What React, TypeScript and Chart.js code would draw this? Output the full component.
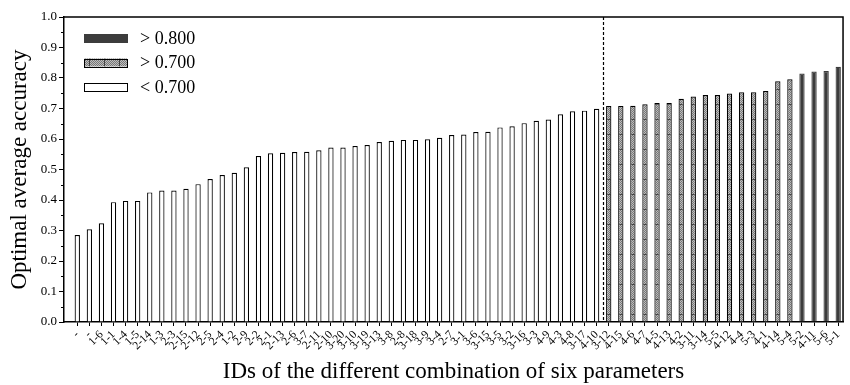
import React, { useEffect, useRef } from "react";
import { Chart, registerables } from "chart.js";

Chart.register(...registerables);

const ids = [
  "-", "-", "1-6", "1-1", "1-4", "1-5", "2-14", "1-3", "2-3", "2-15",
  "2-12", "2-5", "2-4", "1-2", "2-9", "2-2", "2-1", "2-13", "2-6", "3-7",
  "2-11", "2-10", "3-20", "3-10", "3-19", "3-13", "3-8", "2-8", "3-18", "3-9",
  "3-4", "2-7", "3-1", "3-6", "3-15", "3-5", "3-2", "3-16", "3-3", "4-9",
  "4-3", "4-8", "3-17", "4-10", "3-12", "4-15", "4-6", "4-7", "4-5", "4-13",
  "4-2", "3-11", "3-14", "5-5", "4-12", "4-4", "5-3", "4-1", "4-14", "5-4",
  "5-2", "4-11", "5-6", "5-1",
];

const accuracy = [
  0.285, 0.304, 0.324, 0.393, 0.397, 0.397, 0.425, 0.431, 0.431, 0.437,
  0.452, 0.469, 0.482, 0.489, 0.507, 0.544, 0.553, 0.555, 0.557, 0.558,
  0.563, 0.572, 0.572, 0.577, 0.580, 0.590, 0.594, 0.597, 0.597, 0.599,
  0.604, 0.613, 0.615, 0.623, 0.624, 0.638, 0.642, 0.652, 0.660, 0.664,
  0.681, 0.691, 0.693, 0.699, 0.708, 0.708, 0.709, 0.714, 0.718, 0.718,
  0.732, 0.739, 0.744, 0.744, 0.749, 0.753, 0.753, 0.757, 0.789, 0.796,
  0.815, 0.821, 0.823, 0.837,
];

const highThreshold = 0.8;
const midThreshold = 0.7;
const legendLabels = ["> 0.800", "> 0.700", "< 0.700"];
const yTickValues = [0, 0.1, 0.2, 0.3, 0.4, 0.5, 0.6, 0.7, 0.8, 0.9, 1.0];

const SERIF = "'Liberation Serif', 'Times New Roman', serif";
const DARK = "#3c3c3c";

function makeHatch(ctx: CanvasRenderingContext2D, vertical: boolean) {
  const c = document.createElement("canvas");
  c.width = vertical ? 15 : 4;
  c.height = vertical ? 4 : 15;
  const g = c.getContext("2d")!;
  g.fillStyle = "#bdbdbd";
  g.fillRect(0, 0, c.width, c.height);
  g.fillStyle = "#777777";
  for (let y = 0; y < c.height; y++)
    for (let x = 0; x < c.width; x++) if ((x + y) % 2 === 0) g.fillRect(x, y, 1, 1);
  g.fillStyle = "#444444";
  if (vertical) g.fillRect(14, 0, 1, c.height);
  else g.fillRect(0, 14, c.width, 1);
  return ctx.createPattern(c, "repeat")!;
}

export default function App() {
  const ref = useRef<HTMLCanvasElement>(null);

  useEffect(() => {
    const canvas = ref.current!;
    const ctx = canvas.getContext("2d")!;
    const hatch = makeHatch(ctx, false);
    const hatchV = makeHatch(ctx, true);

    const fillFor = (v: number) =>
      v > highThreshold ? DARK : v > midThreshold ? hatch : "#ffffff";
    const borderFor = (v: number) => (v > highThreshold ? DARK : "#000000");

    const overlay = {
      id: "overlay",
      afterDraw(chart: any) {
        const c = chart.ctx as CanvasRenderingContext2D;
        const { left, right, top, bottom } = chart.chartArea;
        const xs = chart.scales.x;
        const ys = chart.scales.y;
        c.save();
        // frame top & right
        c.strokeStyle = "#000";
        c.lineWidth = 1.5;
        c.beginPath();
        c.moveTo(left, top);
        c.lineTo(right, top);
        c.lineTo(right, bottom);
        c.stroke();
        // minor y ticks
        c.lineWidth = 1;
        for (let i = 0; i < yTickValues.length - 1; i++) {
          const mv = (yTickValues[i] + yTickValues[i + 1]) / 2;
          const py = Math.round(ys.getPixelForValue(mv)) + 0.5;
          c.beginPath();
          c.moveTo(left - 3, py);
          c.lineTo(left, py);
          c.stroke();
        }
        // dashed separator between < 0.7 and > 0.7
        const k = accuracy.findIndex((v) => v > midThreshold);
        if (k > 0) {
          const px = Math.round(xs.getPixelForValue(k + 0.5)) + 0.5;
          c.setLineDash([3, 2]);
          c.lineWidth = 1.2;
          c.beginPath();
          c.moveTo(px, top);
          c.lineTo(px, bottom);
          c.stroke();
          c.setLineDash([]);
        }
        // legend
        const fills: (string | CanvasPattern)[] = [DARK, hatchV, "#ffffff"];
        const sx = left + 20;
        const sw = 43;
        const sh = 8;
        c.font = `18px ${SERIF}`;
        c.textBaseline = "middle";
        c.textAlign = "left";
        legendLabels.forEach((lab, i) => {
          const cy = top + 21 + i * 24.5;
          c.fillStyle = fills[i] as any;
          c.fillRect(sx, cy - sh / 2, sw, sh);
          c.strokeStyle = i === 0 ? DARK : "#000";
          c.lineWidth = 1;
          c.strokeRect(sx + 0.5, Math.round(cy - sh / 2) + 0.5, sw, sh);
          c.fillStyle = "#000";
          c.fillText(lab, sx + 56, cy + 1);
        });
        c.restore();
      },
    };

    const chart = new Chart(ctx, {
      type: "bar",
      data: {
        datasets: [
          {
            label: "accuracy",
            data: accuracy.map((v, i) => ({ x: i + 1, y: v })),
            backgroundColor: (c: any) => fillFor(accuracy[c.dataIndex] ?? 0),
            borderColor: (c: any) => borderFor(accuracy[c.dataIndex] ?? 0),
            borderWidth: 1.2,
            barPercentage: 0.44,
            categoryPercentage: 1,
          } as any,
        ],
      },
      options: {
        responsive: false,
        animation: false,
        layout: { padding: { top: 17, right: 5, left: 0, bottom: 0 } },
        plugins: { legend: { display: false }, tooltip: { enabled: false } },
        scales: {
          x: {
            type: "linear",
            offset: false,
            min: -0.1,
            max: 64.4,
            afterBuildTicks: (s: any) => {
              s.ticks = ids.map((_, i) => ({ value: i + 1 }));
            },
            afterFit: (s: any) => {
              s.height = 63;
            },
            ticks: {
              autoSkip: false,
              maxRotation: 45,
              minRotation: 45,
              padding: 2,
              color: "#000",
              font: { family: SERIF, size: 11.5 },
              callback: (v: any) => ids[Math.round(Number(v)) - 1] ?? "",
            },
            grid: {
              display: true,
              offset: false,
              drawOnChartArea: false,
              drawTicks: true,
              tickLength: 4,
              color: "#000",
              lineWidth: 1,
            },
            border: { display: true, color: "#000", width: 1.5 },
            title: {
              display: true,
              text: "IDs of the different combination of six parameters",
              color: "#000",
              font: { family: SERIF, size: 23 },
              padding: { top: 0, bottom: -1 },
            },
          } as any,
          y: {
            min: 0,
            max: 1,
            afterFit: (s: any) => {
              s.width = 64;
            },
            ticks: {
              stepSize: 0.1,
              padding: 2,
              color: "#000",
              font: { family: SERIF, size: 13 },
              callback: (v: any) => Number(v).toFixed(1),
            },
            grid: {
              display: true,
              drawOnChartArea: false,
              drawTicks: true,
              tickLength: 5,
              color: "#000",
              lineWidth: 1,
            },
            border: { display: true, color: "#000", width: 1.5 },
            title: {
              display: true,
              text: "Optimal average accuracy",
              color: "#000",
              font: { family: SERIF, size: 23 },
              padding: { top: 6, bottom: 0 },
            },
          } as any,
        },
      },
      plugins: [overlay],
    });

    return () => chart.destroy();
  }, []);

  return (
    <div style={{ position: "absolute", left: 0, top: 0, width: 850, height: 385 }}>
      <canvas ref={ref} width={850} height={385} />
    </div>
  );
}
